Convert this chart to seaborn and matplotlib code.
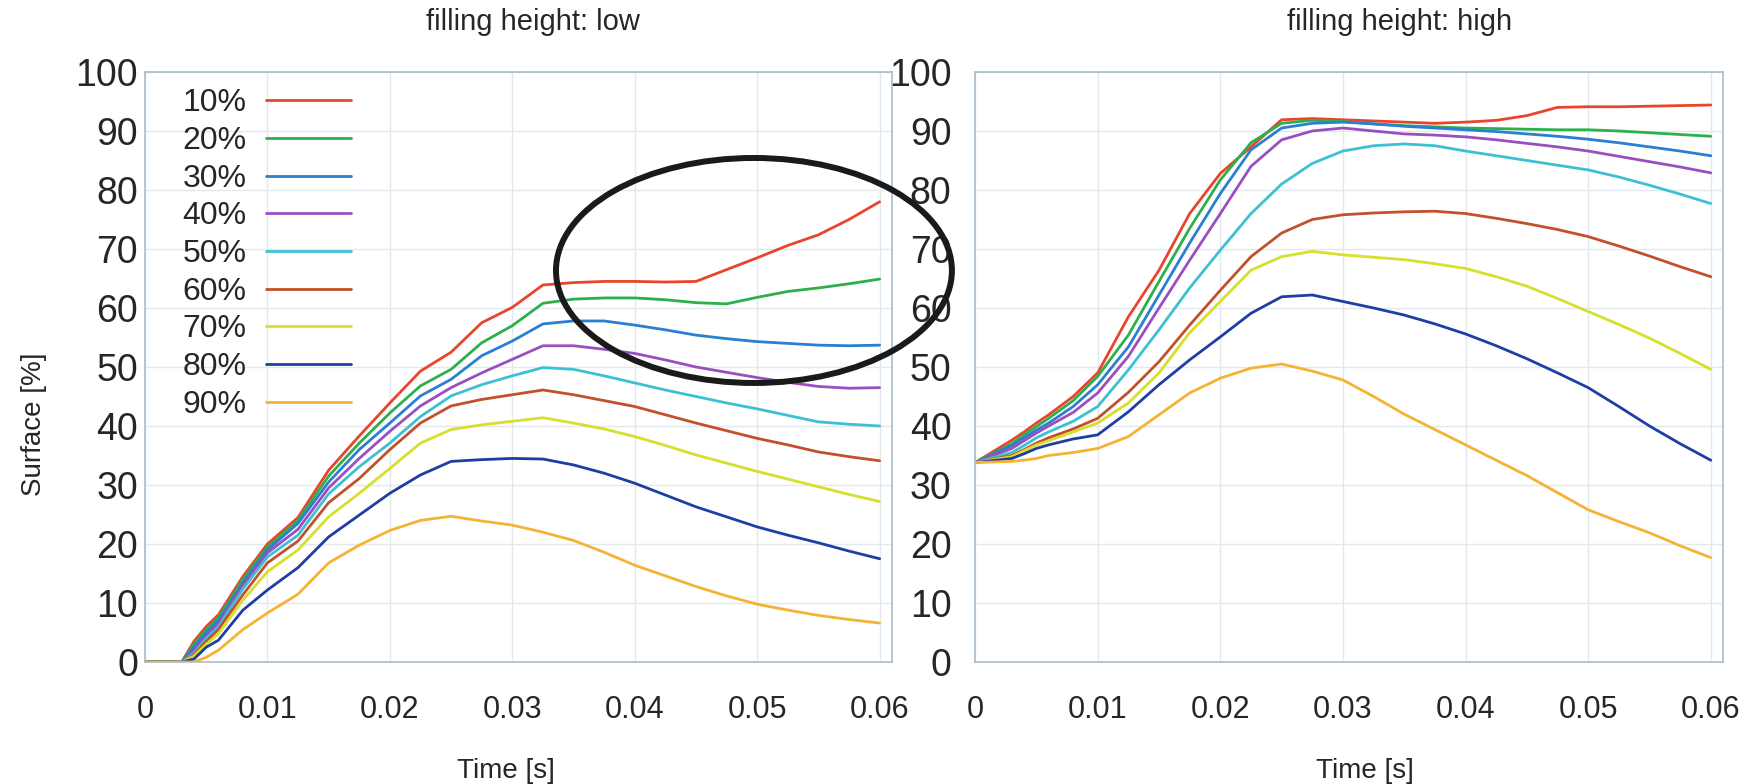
import numpy as np
import pandas as pd
import matplotlib
matplotlib.use("Agg")
import matplotlib.pyplot as plt
from matplotlib.patches import Ellipse
import seaborn as sns

sns.set_style("white")
plt.rcParams['font.family'] = ['Liberation Sans', 'DejaVu Sans']

# time samples [s]
t = [0, 0.003, 0.004, 0.005, 0.006, 0.008, 0.010, 0.0125, 0.015, 0.0175,
     0.020, 0.0225, 0.025, 0.0275, 0.030, 0.0325, 0.035, 0.0375, 0.040,
     0.0425, 0.045, 0.0475, 0.050, 0.0525, 0.055, 0.0575, 0.060]

labels = ['10%', '20%', '30%', '40%', '50%', '60%', '70%', '80%', '90%']
colors = ['#e8452c', '#2db04b', '#2b7fd2', '#9a4fc0', '#3cc0d2',
          '#c2502a', '#d6e02c', '#1e3ea3', '#f5b335']

# filling height: low
low_10 = [0, 0, 3.5, 6, 8, 14.5, 20, 24.5, 32.5, 38.3, 43.9, 49.3, 52.5, 57.5, 60.1, 63.9,
          64.3, 64.5, 64.5, 64.4, 64.5, 66.5, 68.5, 70.6, 72.4, 75, 78]
low_20 = [0, 0, 3, 5.5, 7.5, 14, 19.5, 24, 31.5, 37.1, 42.2, 46.8, 49.6, 54.1, 57, 60.8,
          61.5, 61.7, 61.7, 61.4, 60.9, 60.7, 61.8, 62.8, 63.4, 64.1, 64.9]
low_30 = [0, 0, 2.5, 5, 7, 13.4, 19, 23.5, 30.5, 36, 40.5, 45.1, 47.9, 51.9, 54.4, 57.3,
          57.8, 57.8, 57.1, 56.3, 55.4, 54.8, 54.3, 54, 53.7, 53.6, 53.7]
low_40 = [0, 0, 2, 4.5, 6.5, 13, 18.5, 22.5, 29.5, 34.5, 39.1, 43.4, 46.5, 49, 51.3, 53.6,
          53.6, 53, 52.3, 51.2, 50, 49.1, 48.2, 47.4, 46.7, 46.4, 46.5]
low_50 = [0, 0, 1.5, 4, 6, 12.4, 17.8, 21.5, 28.5, 33.1, 37.1, 41.6, 45.1, 47, 48.5, 49.9,
          49.6, 48.5, 47.3, 46.1, 45, 43.9, 42.9, 41.8, 40.7, 40.3, 40]
low_60 = [0, 0, 1.2, 3.5, 5.5, 11.4, 16.8, 20.5, 27, 31.1, 36, 40.5, 43.4, 44.5, 45.3, 46.1,
          45.3, 44.3, 43.3, 41.9, 40.5, 39.2, 37.9, 36.8, 35.6, 34.8, 34.1]
low_70 = [0, 0, 1, 3, 4.8, 10.5, 15.3, 19, 24.6, 28.6, 32.8, 37.1, 39.4, 40.2, 40.8, 41.4,
          40.5, 39.5, 38.2, 36.7, 35.1, 33.7, 32.3, 31, 29.7, 28.4, 27.2]
low_80 = [0, 0, 0.5, 2.5, 3.7, 8.8, 12.2, 16, 21.2, 24.9, 28.6, 31.7, 34, 34.3, 34.5, 34.4,
          33.4, 32, 30.3, 28.3, 26.3, 24.6, 22.9, 21.5, 20.2, 18.8, 17.5]
low_90 = [0, 0, 0, 0.8, 2, 5.5, 8.3, 11.5, 16.8, 19.8, 22.3, 24, 24.7, 23.9, 23.2, 22,
          20.6, 18.6, 16.4, 14.6, 12.8, 11.2, 9.8, 8.8, 7.9, 7.2, 6.6]

# filling height: high
high_10 = [33.8, 37.6, 39, 40.5, 41.9, 45, 49, 58.5, 66.4, 76, 82.8, 87.3, 91.9, 92.1, 91.9,
           91.7, 91.5, 91.3, 91.5, 91.8, 92.6, 94, 94.1, 94.1, 94.2, 94.3, 94.4]
high_20 = [33.8, 37, 38.5, 39.9, 41.3, 44.3, 48.4, 55.4, 64.5, 73.5, 81.7, 88, 91.3, 91.8, 91.6,
           91.2, 90.9, 90.7, 90.5, 90.4, 90.3, 90.2, 90.2, 90, 89.7, 89.4, 89.1]
high_30 = [33.8, 36.7, 38, 39.3, 40.5, 43.3, 47, 53.4, 62.2, 71, 79.4, 86.8, 90.5, 91.3, 91.5,
           91.2, 90.8, 90.5, 90.2, 89.9, 89.5, 89.1, 88.6, 88, 87.3, 86.6, 85.8]
high_40 = [33.8, 36.2, 37.5, 38.8, 40, 42.3, 45.6, 51.8, 60, 68.1, 76, 84, 88.5, 90, 90.5,
           90, 89.5, 89.3, 89, 88.5, 87.9, 87.3, 86.6, 85.7, 84.8, 83.9, 82.9]
high_50 = [33.8, 35.5, 36.7, 38, 39, 40.8, 43.3, 49.5, 56.3, 63.4, 69.8, 76, 81, 84.5, 86.6,
           87.5, 87.8, 87.5, 86.6, 85.8, 85, 84.2, 83.4, 82.2, 80.8, 79.3, 77.7]
high_60 = [33.8, 35, 36, 37.1, 38, 39.5, 41.3, 45.7, 50.9, 57.1, 63, 68.7, 72.7, 75, 75.8,
           76.1, 76.3, 76.4, 76, 75.2, 74.3, 73.3, 72.1, 70.5, 68.8, 67, 65.3]
high_70 = [33.8, 34.8, 35.8, 36.8, 37.5, 39, 40.5, 43.9, 49, 55.8, 61.1, 66.4, 68.7, 69.6, 69,
           68.6, 68.2, 67.5, 66.7, 65.3, 63.7, 61.6, 59.4, 57.2, 54.9, 52.3, 49.6]
high_80 = [33.8, 34.5, 35.3, 36.2, 36.8, 37.8, 38.5, 42.4, 47, 51.2, 55.1, 59.1, 61.9, 62.2, 61.1,
           60, 58.8, 57.3, 55.6, 53.6, 51.4, 49, 46.5, 43.3, 40, 37, 34.2]
high_90 = [33.8, 34, 34.2, 34.5, 35, 35.5, 36.2, 38.2, 41.9, 45.6, 48.1, 49.8, 50.5, 49.3, 47.8,
           45, 42, 39.4, 36.8, 34.2, 31.6, 28.7, 25.8, 23.8, 21.9, 19.7, 17.7]

low = [low_10, low_20, low_30, low_40, low_50, low_60, low_70, low_80, low_90]
high = [high_10, high_20, high_30, high_40, high_50, high_60, high_70, high_80, high_90]

xticks = [0, 0.01, 0.02, 0.03, 0.04, 0.05, 0.06]
xticklabels = ['0', '0.01', '0.02', '0.03', '0.04', '0.05', '0.06']
yticks = [0, 10, 20, 30, 40, 50, 60, 70, 80, 90, 100]


def long_form(series):
    rows = []
    for lab, vals in zip(labels, series):
        for tt, v in zip(t, vals):
            rows.append((tt, v, lab))
    return pd.DataFrame(rows, columns=['Time', 'Surface', 'Filling'])


fig = plt.figure(figsize=(17.55, 7.84), dpi=100)
ax1 = fig.add_axes([0.0826, 0.1556, 0.4256, 0.7526])
ax2 = fig.add_axes([0.5556, 0.1556, 0.4262, 0.7526])

spine_col = '#a9bccb'
grid_col = '#e1e8ee'

for ax, series, title, ylpad, tx, lx in [
        (ax1, low, 'filling height: low', 5, 0.52, 0.483),
        (ax2, high, 'filling height: high', 17, 0.568, 0.521)]:
    df = long_form(series)
    sns.lineplot(data=df, x='Time', y='Surface', hue='Filling', hue_order=labels,
                 palette=colors, linewidth=2.0, ax=ax, legend=(ax is ax1))
    ax.set_xlim(0, 0.061)
    ax.set_ylim(0, 100)
    ax.set_xticks(xticks)
    ax.set_xticklabels(xticklabels)
    ax.set_yticks(yticks)
    ax.grid(True, color=grid_col, linewidth=1.0)
    ax.set_axisbelow(True)
    for s in ax.spines.values():
        s.set_color(spine_col)
        s.set_linewidth(1.2)
    ax.tick_params(axis='x', length=0, pad=24, labelsize=22)
    ax.tick_params(axis='y', length=0, pad=ylpad, labelsize=27)
    ax.set_xlabel('Time [s]', fontsize=20)
    ax.xaxis.set_label_coords(lx, -0.162)
    ax.set_ylabel('')
    ax.text(tx, 1.085, title, transform=ax.transAxes, ha='center', va='center',
            fontsize=21)

ax1.set_ylabel('Surface [%]', fontsize=20)
ax1.yaxis.set_label_coords(-0.131, 0.403)

handles, labs = ax1.get_legend_handles_labels()
ax1.legend(handles, labs, loc='upper left', bbox_to_anchor=(0.05, 0.972),
           markerfirst=False, frameon=False, fontsize=23, handlelength=2.66,
           handletextpad=0.6, labelspacing=0.24, borderpad=0, borderaxespad=0)

ring = Ellipse((0.4296, 0.6550), 0.2256, 0.2870, transform=fig.transFigure,
               fill=False, edgecolor='#1a1a1a', linewidth=4.3, zorder=10)
fig.patches.append(ring)

fig.savefig('out.png', dpi=100)
